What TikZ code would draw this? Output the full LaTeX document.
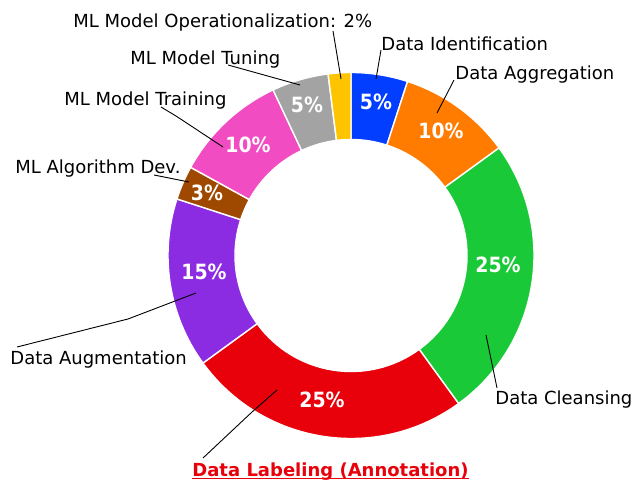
\documentclass[tikz,border=0pt]{standalone}
\usepackage{fontspec}
\setmainfont{DejaVu Sans}
\newfontfamily\pctfont{DejaVu Sans Condensed}
% seaborn "bright" colours
\definecolor{idblue}{HTML}{023EFF}
\definecolor{aggorange}{HTML}{FF7C00}
\definecolor{cleangreen}{HTML}{1AC938}
\definecolor{labred}{HTML}{E8000B}
\definecolor{augpurple}{HTML}{8B2BE2}
\definecolor{algbrown}{HTML}{9F4800}
\definecolor{trainpink}{HTML}{F14CC1}
\definecolor{tunegray}{HTML}{A3A3A3}
\definecolor{opyellow}{HTML}{FFC400}
\tikzset{
  donutpart/.style={draw=white, line width=0.7pt, line join=round},
  pct/.style={text=white, inner sep=0pt, font=\pctfont\fontsize{10.5}{12}\selectfont\bfseries},
  lbl/.style={anchor=base west, inner sep=0pt, font=\fontsize{9}{11}\selectfont},
  leader/.style={draw=black, line width=0.45pt},
}
% one ring segment: start angle, end angle, colour
\newcommand{\ringpart}[3]{%
  \fill[#3, donutpart] (#1:183) arc[start angle=#1, end angle=#2, radius=183]
    -- (#2:116) arc[start angle=#2, end angle=#1, radius=116] -- cycle;}
\begin{document}
\begin{tikzpicture}[x=0.5pt, y=0.5pt]
  \fill[white] (0,0) rectangle (635,481);
  % the ring, clockwise from the top
  \begin{scope}[shift={(351,225.5)}]
    \ringpart{90}{72}{idblue}
    \ringpart{72}{36}{aggorange}
    \ringpart{36}{-54}{cleangreen}
    \ringpart{-54}{-144}{labred}
    \ringpart{-144}{-198}{augpurple}
    \ringpart{-198}{-208.8}{algbrown}
    \ringpart{-208.8}{-244.8}{trainpink}
    \ringpart{-244.8}{-262.8}{tunegray}
    \ringpart{-262.8}{-270}{opyellow}
  \end{scope}
  % shares
  \node[pct] (p-ident) at (376,379) {5\%};
  \node[pct] (p-agg)   at (441,350) {10\%};
  \node[pct] (p-clean) at (498,216) {25\%};
  \node[pct] (p-lab)   at (322,81)  {25\%};
  \node[pct] (p-aug)   at (204,209) {15\%};
  \node[pct] (p-alg)   at (207,288) {3\%};
  \node[pct] (p-train) at (248,336) {10\%};
  \node[pct] (p-tune)  at (307,376) {5\%};
  % names
  \node[lbl] (n-op)    at (73,453)  {ML Model Operationalization: 2\%};
  \node[lbl] (n-ident) at (381,430) {Data Identification};
  \node[lbl] (n-agg)   at (455,401) {Data Aggregation};
  \node[lbl] (n-tune)  at (130,416) {ML Model Tuning};
  \node[lbl] (n-train) at (64,375)  {ML Model Training};
  \node[lbl] (n-alg)   at (15,307)  {ML Algorithm Dev.};
  \node[lbl] (n-aug)   at (10,117)  {Data Augmentation};
  \node[lbl] (n-clean) at (495,77)  {Data Cleansing};
  \node[lbl, text=labred, font=\fontsize{9}{11}\selectfont\bfseries]
    (n-lab) at (192,5) {Data Labeling (Annotation)};
  \draw[labred, line width=0.5pt] ([yshift=-1.25pt]n-lab.base west)
    -- ([yshift=-1.25pt]n-lab.base east);
  % leader lines
  \coordinate (op-in) at (341,402);    \coordinate (op-out) at (333,450);
  \coordinate (id-in) at (376,402);    \coordinate (id-out) at (381,431);
  \coordinate (ag-in) at (437,368);    \coordinate (ag-out) at (454,401);
  \coordinate (cl-in) at (486,146);    \coordinate (cl-out) at (497,93);
  \coordinate (lb-in) at (277,91);     \coordinate (lb-mid) at (252,69);
  \coordinate (lb-out) at (203,23);
  \coordinate (au-in) at (196,188);    \coordinate (au-mid) at (128,162);
  \coordinate (au-out) at (17,134);
  \coordinate (al-in) at (189,299);    \coordinate (al-out) at (154,306);
  \coordinate (tr-in) at (223,334);    \coordinate (tr-mid) at (176,365);
  \coordinate (tr-out) at (161,374);
  \coordinate (tu-in) at (300,396);    \coordinate (tu-out) at (228,416);
  \draw[leader] (op-in) -- (op-out);
  \draw[leader] (id-in) -- (id-out);
  \draw[leader] (ag-in) -- (ag-out);
  \draw[leader] (cl-in) -- (cl-out);
  \draw[leader] (lb-in) -- (lb-mid) -- (lb-out);
  \draw[leader] (au-in) -- (au-mid) -- (au-out);
  \draw[leader] (al-in) -- (al-out);
  \draw[leader] (tr-in) -- (tr-mid) -- (tr-out);
  \draw[leader] (tu-in) -- (tu-out);
\end{tikzpicture}
\end{document}
